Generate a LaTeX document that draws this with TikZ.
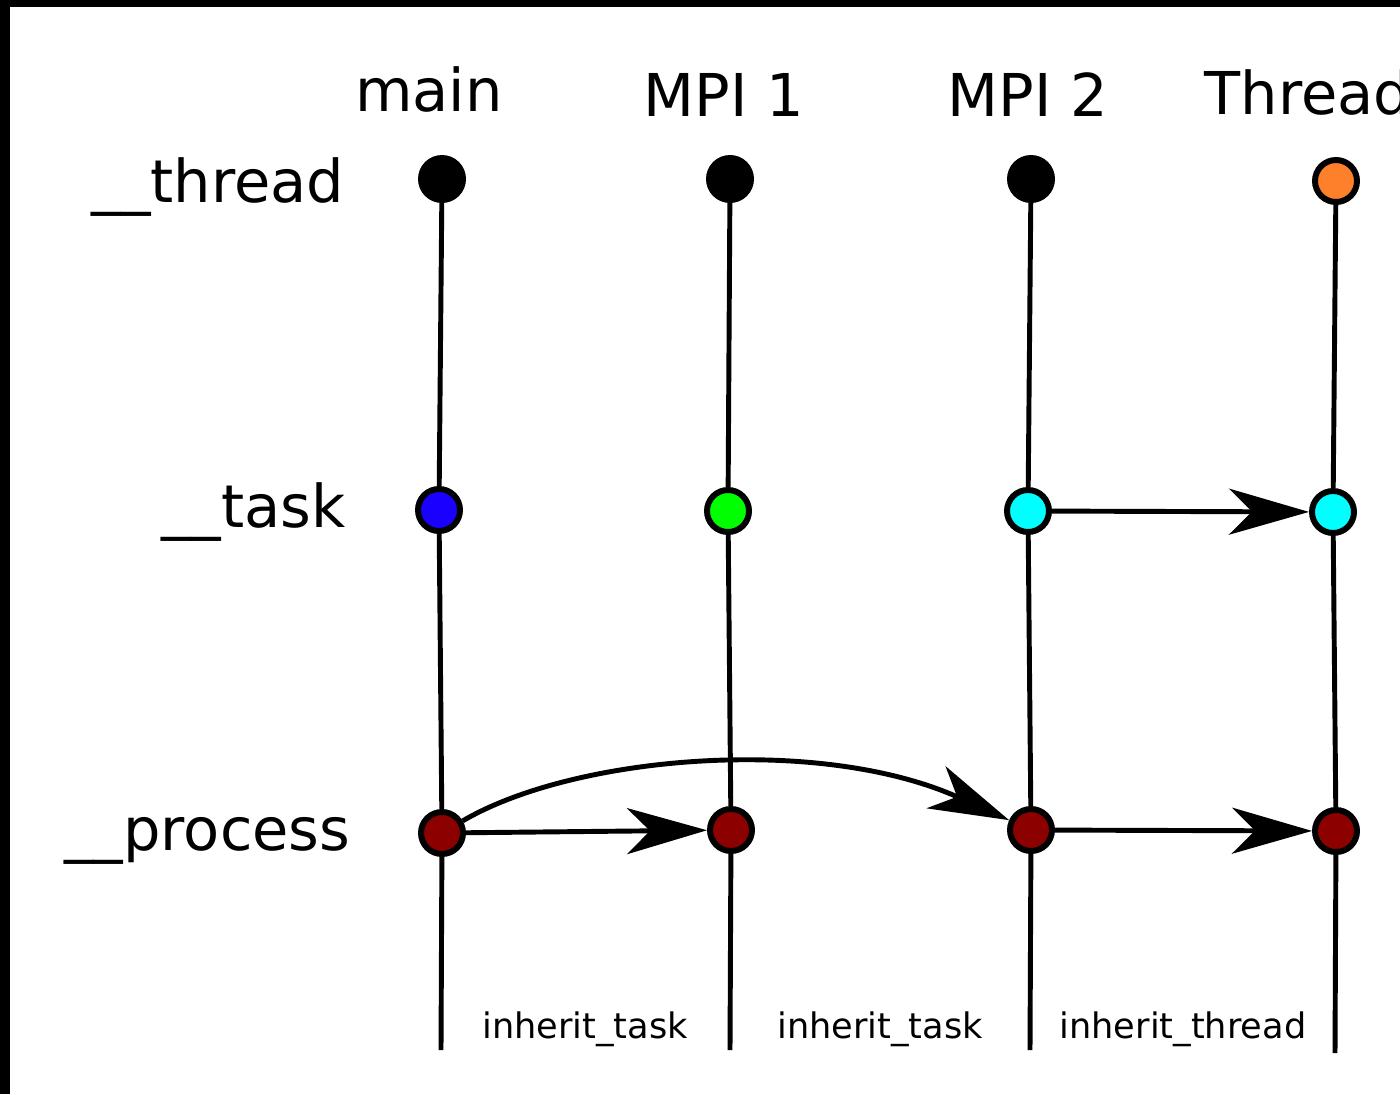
\documentclass[tikz,border=0pt]{standalone}
\usepackage{fontspec}
\setmainfont{DejaVu Sans}
\usetikzlibrary{arrows.meta}
\definecolor{dotblue}{RGB}{26,0,255}
\definecolor{dotgreen}{RGB}{0,255,0}
\definecolor{dotcyan}{RGB}{0,255,255}
\definecolor{dotorange}{RGB}{255,128,42}
\definecolor{dotred}{RGB}{140,0,0}

\begin{document}
\begin{tikzpicture}[
    dot/.style={circle, draw, line width=1.7pt, inner sep=0pt, minimum size=0.42cm},
    life/.style={line width=1.4pt},
    pass/.style={line width=1.4pt, -{Stealth[length=0.8cm, width=0.46cm, inset=0.23cm]}},
    head/.style={font=\fontsize{16.8}{20}\selectfont, inner sep=0pt, anchor=base},
    row/.style={font=\fontsize{16.8}{20}\selectfont, inner sep=0pt, anchor=base east},
    how/.style={font=\fontsize{10}{12}\selectfont, inner sep=0pt, anchor=base}]
  \useasboundingbox (0,0) rectangle (14,-10.94);
  \clip (0,0) rectangle (14,-10.94);
  % frame
  \fill[black] (0,0) rectangle (14,-10.94);
  \fill[white] (0.10,-0.07) rectangle (14,-10.94);
  % column and row titles
  \node[head] (hmain) at (4.29,-1.11) {main};
  \node[head] (hmpia) at (7.24,-1.16) {MPI 1};
  \node[head] (hmpib) at (10.28,-1.16) {MPI 2};
  \node[head, anchor=base west] (hthread) at (12.04,-1.14) {Thread};
  \node[row] (rthread) at (3.45,-2.02) {\_\_thread};
  \node[row] (rtask) at (3.46,-5.27) {\_\_task};
  \node[row] (rprocess) at (3.51,-8.50) {\_\_process};
  % dots
  \node[dot, fill=black] (mainT) at (4.42,-1.79) {};
  \node[dot, fill=black] (mpiaT) at (7.30,-1.79) {};
  \node[dot, fill=black] (mpibT) at (10.31,-1.79) {};
  \node[dot, fill=dotorange] (thrT) at (13.36,-1.81) {};
  \node[dot, fill=dotblue] (mainK) at (4.39,-5.10) {};
  \node[dot, fill=dotgreen] (mpiaK) at (7.28,-5.11) {};
  \node[dot, fill=dotcyan] (mpibK) at (10.28,-5.11) {};
  \node[dot, fill=dotcyan] (thrK) at (13.33,-5.12) {};
  \node[dot, fill=dotred] (mainP) at (4.42,-8.33) {};
  \node[dot, fill=dotred] (mpiaP) at (7.31,-8.30) {};
  \node[dot, fill=dotred] (mpibP) at (10.31,-8.30) {};
  \node[dot, fill=dotred] (thrP) at (13.36,-8.31) {};
  \coordinate (mainE) at (4.41,-10.50);
  \coordinate (mpiaE) at (7.30,-10.50);
  \coordinate (mpibE) at (10.30,-10.50);
  \coordinate (thrE) at (13.35,-10.53);
  % life lines
  \foreach \c in {main, mpia, mpib, thr}
    \draw[life] (\c T) -- (\c K) -- (\c P) -- (\c E);
  % inheritance
  \draw[pass] (mainP) -- (mpiaP);
  \draw[pass] (mainP) .. controls (5.75,-7.55) and (8.2,-7.35) .. (mpibP);
  \draw[pass] (mpibP) -- (thrP);
  \draw[pass] (mpibK) -- (thrK);
  \node[how] (iaa) at (5.85,-10.38) {inherit\_task};
  \node[how] (iab) at (8.80,-10.38) {inherit\_task};
  \node[how] (ith) at (11.83,-10.38) {inherit\_thread};
\end{tikzpicture}
\end{document}
